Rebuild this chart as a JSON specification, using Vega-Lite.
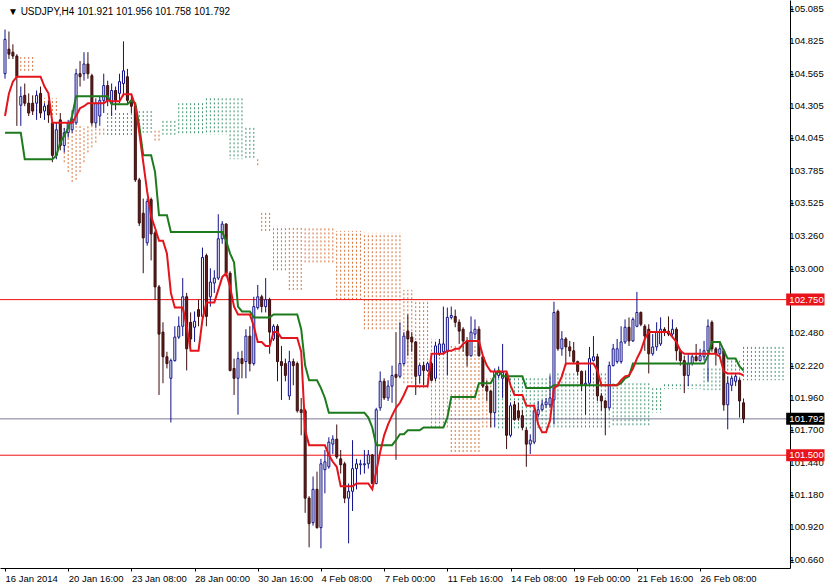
{
"$schema": "https://vega.github.io/schema/vega-lite/v6.json",
"width": 790, "height": 568,
"autosize": {"type": "none"},
"padding": {"left": 0, "top": 0, "right": 40, "bottom": 16},
"background": "white",
"config": {"view": {"stroke": null}, "axis": {"labelOverlap": false, "labelFlush": false, "labelBound": false, "grid": false, "domainColor": "#000000", "tickColor": "#000000", "labelColor": "#000000", "labelFont": "Liberation Sans", "labelFontSize": 9.5}},
"datasets": {
"boxes": [{"p":102.75,"label":"102.750"},{"p":101.792,"label":"101.792"},{"p":101.5,"label":"101.500"}],
"yticks": [{"v":105.085},{"v":104.825},{"v":104.565},{"v":104.305},{"v":104.045},{"v":103.785},{"v":103.525},{"v":103.26},{"v":103.0},{"v":102.48},{"v":102.22},{"v":101.96},{"v":101.7},{"v":101.44},{"v":101.18},{"v":100.92},{"v":100.66}],
"candles": [
{"i":0,"o":104.565,"h":104.920,"l":104.525,"c":104.841,"t":104.225,"k":104.091},
{"i":1,"o":104.762,"h":104.904,"l":104.683,"c":104.722,"t":104.407,"k":104.091},
{"i":2,"o":104.738,"h":104.801,"l":104.683,"c":104.707,"t":104.501,"k":104.091},
{"i":3,"o":104.707,"h":104.722,"l":104.146,"c":104.541,"t":104.541,"k":104.091},
{"i":4,"o":104.312,"h":104.462,"l":104.146,"c":104.383,"t":104.541,"k":104.091},
{"i":5,"o":104.391,"h":104.486,"l":104.304,"c":104.328,"t":104.541,"k":103.878},
{"i":6,"o":104.328,"h":104.407,"l":104.225,"c":104.249,"t":104.541,"k":103.878},
{"i":7,"o":104.328,"h":104.391,"l":104.233,"c":104.265,"t":104.541,"k":103.878},
{"i":8,"o":104.328,"h":104.430,"l":104.194,"c":104.391,"t":104.541,"k":103.878},
{"i":9,"o":104.407,"h":104.462,"l":104.209,"c":104.249,"t":104.541,"k":103.878},
{"i":10,"o":104.265,"h":104.328,"l":104.194,"c":104.304,"t":104.462,"k":103.878},
{"i":11,"o":104.312,"h":104.351,"l":104.170,"c":104.233,"t":104.407,"k":103.878},
{"i":12,"o":104.170,"h":104.194,"l":103.854,"c":103.909,"t":104.170,"k":103.878},
{"i":13,"o":103.909,"h":104.170,"l":103.878,"c":104.115,"t":104.170,"k":103.909},
{"i":14,"o":104.194,"h":104.249,"l":103.949,"c":103.988,"t":104.170,"k":104.012},
{"i":15,"o":103.988,"h":104.130,"l":103.933,"c":104.091,"t":104.170,"k":104.067},
{"i":16,"o":104.091,"h":104.194,"l":104.051,"c":104.170,"t":104.170,"k":104.130},
{"i":17,"o":104.115,"h":104.272,"l":104.091,"c":104.194,"t":104.170,"k":104.225},
{"i":18,"o":104.170,"h":104.604,"l":104.154,"c":104.565,"t":104.225,"k":104.383},
{"i":19,"o":104.565,"h":104.667,"l":104.462,"c":104.541,"t":104.288,"k":104.383},
{"i":20,"o":104.565,"h":104.738,"l":104.509,"c":104.643,"t":104.304,"k":104.383},
{"i":21,"o":104.643,"h":104.738,"l":104.525,"c":104.565,"t":104.328,"k":104.383},
{"i":22,"o":104.549,"h":104.565,"l":104.146,"c":104.170,"t":104.328,"k":104.383},
{"i":23,"o":104.170,"h":104.367,"l":104.130,"c":104.328,"t":104.328,"k":104.383},
{"i":24,"o":104.225,"h":104.383,"l":104.146,"c":104.351,"t":104.328,"k":104.383},
{"i":25,"o":104.351,"h":104.565,"l":104.249,"c":104.470,"t":104.328,"k":104.383},
{"i":26,"o":104.470,"h":104.509,"l":104.304,"c":104.351,"t":104.351,"k":104.383},
{"i":27,"o":104.328,"h":104.486,"l":104.225,"c":104.430,"t":104.344,"k":104.320},
{"i":28,"o":104.430,"h":104.462,"l":104.272,"c":104.351,"t":104.344,"k":104.320},
{"i":29,"o":104.407,"h":104.565,"l":104.328,"c":104.501,"t":104.344,"k":104.320},
{"i":30,"o":104.486,"h":104.825,"l":104.383,"c":104.588,"t":104.399,"k":104.320},
{"i":31,"o":104.541,"h":104.604,"l":104.328,"c":104.351,"t":104.399,"k":104.320},
{"i":32,"o":104.351,"h":104.391,"l":104.249,"c":104.304,"t":104.399,"k":104.351},
{"i":33,"o":104.304,"h":104.328,"l":103.696,"c":103.712,"t":104.304,"k":104.328},
{"i":34,"o":103.712,"h":103.728,"l":103.341,"c":103.365,"t":104.091,"k":104.146},
{"i":35,"o":103.444,"h":103.562,"l":102.962,"c":103.246,"t":103.854,"k":103.909},
{"i":36,"o":103.207,"h":103.562,"l":103.183,"c":103.538,"t":103.617,"k":103.909},
{"i":37,"o":103.554,"h":103.570,"l":103.065,"c":103.278,"t":103.420,"k":103.909},
{"i":38,"o":103.286,"h":103.302,"l":102.749,"c":102.852,"t":103.325,"k":103.775},
{"i":39,"o":102.852,"h":102.868,"l":101.984,"c":102.473,"t":103.223,"k":103.428},
{"i":40,"o":102.489,"h":102.568,"l":102.078,"c":102.291,"t":103.223,"k":103.428},
{"i":41,"o":102.291,"h":102.331,"l":102.197,"c":102.236,"t":103.120,"k":103.428},
{"i":42,"o":102.118,"h":102.276,"l":101.763,"c":102.260,"t":102.804,"k":103.294},
{"i":43,"o":102.260,"h":102.536,"l":102.252,"c":102.449,"t":102.686,"k":103.294},
{"i":44,"o":102.449,"h":102.615,"l":102.434,"c":102.536,"t":102.686,"k":103.294},
{"i":45,"o":102.536,"h":102.923,"l":102.457,"c":102.773,"t":102.686,"k":103.294},
{"i":46,"o":102.773,"h":102.804,"l":102.181,"c":102.355,"t":102.536,"k":103.294},
{"i":47,"o":102.568,"h":102.647,"l":102.355,"c":102.434,"t":102.339,"k":103.294},
{"i":48,"o":102.528,"h":102.655,"l":102.410,"c":102.576,"t":102.339,"k":103.294},
{"i":49,"o":102.670,"h":102.749,"l":102.536,"c":102.615,"t":102.339,"k":103.294},
{"i":50,"o":102.615,"h":103.168,"l":102.591,"c":103.089,"t":102.591,"k":103.294},
{"i":51,"o":103.104,"h":103.120,"l":102.536,"c":102.615,"t":102.726,"k":103.294},
{"i":52,"o":102.773,"h":103.002,"l":102.694,"c":102.891,"t":102.726,"k":103.294},
{"i":53,"o":102.883,"h":102.986,"l":102.804,"c":102.923,"t":102.726,"k":103.294},
{"i":54,"o":102.923,"h":103.436,"l":102.907,"c":103.239,"t":102.828,"k":103.294},
{"i":55,"o":103.239,"h":103.381,"l":103.199,"c":103.357,"t":102.931,"k":103.294},
{"i":56,"o":103.357,"h":103.365,"l":102.931,"c":102.962,"t":102.962,"k":103.223},
{"i":57,"o":102.962,"h":102.978,"l":102.173,"c":102.181,"t":102.852,"k":103.120},
{"i":58,"o":102.197,"h":102.276,"l":101.984,"c":102.118,"t":102.694,"k":103.049},
{"i":59,"o":102.118,"h":102.331,"l":101.826,"c":102.276,"t":102.631,"k":102.694},
{"i":60,"o":102.276,"h":102.339,"l":102.118,"c":102.236,"t":102.631,"k":102.655},
{"i":61,"o":102.252,"h":102.512,"l":102.118,"c":102.457,"t":102.631,"k":102.655},
{"i":62,"o":102.457,"h":102.536,"l":102.173,"c":102.236,"t":102.631,"k":102.655},
{"i":63,"o":102.236,"h":102.773,"l":102.220,"c":102.694,"t":102.536,"k":102.607},
{"i":64,"o":102.686,"h":102.868,"l":102.670,"c":102.773,"t":102.410,"k":102.607},
{"i":65,"o":102.773,"h":102.789,"l":102.647,"c":102.694,"t":102.410,"k":102.607},
{"i":66,"o":102.694,"h":102.923,"l":102.647,"c":102.749,"t":102.378,"k":102.607},
{"i":67,"o":102.749,"h":102.765,"l":102.315,"c":102.489,"t":102.378,"k":102.607},
{"i":68,"o":102.434,"h":102.552,"l":102.418,"c":102.536,"t":102.489,"k":102.631},
{"i":69,"o":102.536,"h":102.552,"l":102.094,"c":102.252,"t":102.489,"k":102.631},
{"i":70,"o":102.252,"h":102.378,"l":101.944,"c":102.220,"t":102.441,"k":102.631},
{"i":71,"o":102.236,"h":102.276,"l":102.094,"c":102.141,"t":102.441,"k":102.631},
{"i":72,"o":101.976,"h":102.339,"l":101.944,"c":102.252,"t":102.441,"k":102.631},
{"i":73,"o":102.252,"h":102.276,"l":102.062,"c":102.220,"t":102.441,"k":102.631},
{"i":74,"o":102.236,"h":102.252,"l":101.842,"c":101.857,"t":102.441,"k":102.631},
{"i":75,"o":101.865,"h":101.960,"l":101.660,"c":101.842,"t":102.331,"k":102.512},
{"i":76,"o":101.857,"h":101.873,"l":101.037,"c":101.155,"t":101.700,"k":102.220},
{"i":77,"o":101.155,"h":101.171,"l":100.760,"c":100.950,"t":101.581,"k":102.102},
{"i":78,"o":100.958,"h":101.329,"l":100.934,"c":101.226,"t":101.581,"k":102.102},
{"i":79,"o":101.226,"h":101.368,"l":100.910,"c":100.918,"t":101.581,"k":102.102},
{"i":80,"o":100.918,"h":101.471,"l":100.752,"c":101.431,"t":101.581,"k":102.039},
{"i":81,"o":101.384,"h":101.542,"l":101.194,"c":101.447,"t":101.581,"k":101.960},
{"i":82,"o":101.407,"h":101.644,"l":101.392,"c":101.605,"t":101.502,"k":101.842},
{"i":83,"o":101.589,"h":101.660,"l":101.510,"c":101.629,"t":101.447,"k":101.842},
{"i":84,"o":101.629,"h":101.747,"l":101.471,"c":101.486,"t":101.407,"k":101.842},
{"i":85,"o":101.471,"h":101.542,"l":101.352,"c":101.423,"t":101.250,"k":101.842},
{"i":86,"o":101.431,"h":101.447,"l":101.115,"c":101.155,"t":101.250,"k":101.842},
{"i":87,"o":101.155,"h":101.273,"l":100.792,"c":101.210,"t":101.250,"k":101.842},
{"i":88,"o":101.210,"h":101.621,"l":101.052,"c":101.392,"t":101.250,"k":101.842},
{"i":89,"o":101.392,"h":101.471,"l":101.226,"c":101.431,"t":101.273,"k":101.842},
{"i":90,"o":101.423,"h":101.463,"l":101.344,"c":101.431,"t":101.273,"k":101.842},
{"i":91,"o":101.423,"h":101.542,"l":101.352,"c":101.431,"t":101.273,"k":101.842},
{"i":92,"o":101.431,"h":101.542,"l":101.392,"c":101.502,"t":101.273,"k":101.802},
{"i":93,"o":101.502,"h":101.510,"l":101.266,"c":101.273,"t":101.226,"k":101.723},
{"i":94,"o":101.273,"h":101.881,"l":101.266,"c":101.865,"t":101.368,"k":101.581},
{"i":95,"o":101.881,"h":102.173,"l":101.857,"c":102.094,"t":101.526,"k":101.581},
{"i":96,"o":102.094,"h":102.118,"l":101.944,"c":101.960,"t":101.660,"k":101.581},
{"i":97,"o":101.960,"h":102.102,"l":101.936,"c":102.055,"t":101.747,"k":101.581},
{"i":98,"o":102.055,"h":102.220,"l":101.921,"c":102.141,"t":101.818,"k":101.581},
{"i":99,"o":102.149,"h":102.489,"l":101.463,"c":102.126,"t":101.881,"k":101.621},
{"i":100,"o":102.134,"h":102.568,"l":102.118,"c":102.236,"t":101.921,"k":101.668},
{"i":101,"o":102.236,"h":102.489,"l":102.220,"c":102.457,"t":101.984,"k":101.668},
{"i":102,"o":102.497,"h":102.631,"l":102.299,"c":102.434,"t":102.055,"k":101.700},
{"i":103,"o":102.449,"h":102.489,"l":102.331,"c":102.410,"t":102.055,"k":101.700},
{"i":104,"o":102.410,"h":102.418,"l":101.984,"c":102.134,"t":102.055,"k":101.700},
{"i":105,"o":102.141,"h":102.236,"l":102.078,"c":102.220,"t":102.055,"k":101.700},
{"i":106,"o":102.220,"h":102.252,"l":102.062,"c":102.181,"t":102.055,"k":101.723},
{"i":107,"o":102.181,"h":102.252,"l":102.173,"c":102.236,"t":102.055,"k":101.723},
{"i":108,"o":102.236,"h":102.252,"l":102.094,"c":102.102,"t":102.315,"k":101.723},
{"i":109,"o":102.118,"h":102.410,"l":102.094,"c":102.378,"t":102.315,"k":101.723},
{"i":110,"o":102.315,"h":102.434,"l":102.299,"c":102.394,"t":102.315,"k":101.723},
{"i":111,"o":102.331,"h":102.694,"l":102.315,"c":102.394,"t":102.315,"k":101.723},
{"i":112,"o":102.331,"h":102.686,"l":102.141,"c":102.607,"t":102.339,"k":101.802},
{"i":113,"o":102.607,"h":102.694,"l":102.591,"c":102.623,"t":102.339,"k":101.968},
{"i":114,"o":102.615,"h":102.670,"l":102.528,"c":102.568,"t":102.355,"k":101.968},
{"i":115,"o":102.568,"h":102.591,"l":102.394,"c":102.497,"t":102.355,"k":101.968},
{"i":116,"o":102.512,"h":102.528,"l":102.331,"c":102.418,"t":102.394,"k":101.968},
{"i":117,"o":102.418,"h":102.449,"l":102.213,"c":102.299,"t":102.418,"k":101.968},
{"i":118,"o":102.299,"h":102.615,"l":102.291,"c":102.489,"t":102.418,"k":101.968},
{"i":119,"o":102.473,"h":102.591,"l":102.434,"c":102.512,"t":102.418,"k":101.968},
{"i":120,"o":102.512,"h":102.536,"l":102.291,"c":102.299,"t":102.418,"k":102.078},
{"i":121,"o":102.291,"h":102.299,"l":102.039,"c":102.055,"t":102.299,"k":102.078},
{"i":122,"o":102.055,"h":102.102,"l":101.936,"c":102.015,"t":102.220,"k":102.078},
{"i":123,"o":102.015,"h":102.023,"l":101.723,"c":101.842,"t":102.173,"k":102.078},
{"i":124,"o":101.842,"h":102.197,"l":101.723,"c":102.173,"t":102.173,"k":102.141},
{"i":125,"o":102.141,"h":102.213,"l":102.118,"c":102.173,"t":102.173,"k":102.181},
{"i":126,"o":102.118,"h":102.394,"l":101.960,"c":102.165,"t":102.173,"k":102.134},
{"i":127,"o":102.157,"h":102.173,"l":101.549,"c":101.660,"t":102.173,"k":102.134},
{"i":128,"o":101.660,"h":101.921,"l":101.644,"c":101.897,"t":102.062,"k":102.134},
{"i":129,"o":101.905,"h":101.936,"l":101.778,"c":101.786,"t":101.984,"k":102.134},
{"i":130,"o":101.857,"h":101.921,"l":101.778,"c":101.802,"t":101.984,"k":102.134},
{"i":131,"o":101.818,"h":101.865,"l":101.700,"c":101.723,"t":101.984,"k":102.134},
{"i":132,"o":101.700,"h":101.723,"l":101.407,"c":101.589,"t":101.897,"k":102.039},
{"i":133,"o":101.589,"h":101.668,"l":101.510,"c":101.621,"t":101.897,"k":102.039},
{"i":134,"o":101.605,"h":101.905,"l":101.589,"c":101.857,"t":101.897,"k":102.039},
{"i":135,"o":101.826,"h":101.936,"l":101.802,"c":101.865,"t":101.747,"k":102.039},
{"i":136,"o":101.865,"h":101.944,"l":101.857,"c":101.905,"t":101.684,"k":102.039},
{"i":137,"o":101.905,"h":101.960,"l":101.881,"c":101.928,"t":101.684,"k":102.039},
{"i":138,"o":101.905,"h":102.141,"l":101.881,"c":101.960,"t":101.778,"k":102.039},
{"i":139,"o":101.944,"h":102.733,"l":101.747,"c":102.647,"t":102.039,"k":102.062},
{"i":140,"o":102.655,"h":102.670,"l":102.339,"c":102.355,"t":102.062,"k":102.062},
{"i":141,"o":102.355,"h":102.497,"l":102.299,"c":102.434,"t":102.134,"k":102.062},
{"i":142,"o":102.434,"h":102.449,"l":102.220,"c":102.370,"t":102.236,"k":102.062},
{"i":143,"o":102.370,"h":102.418,"l":102.291,"c":102.339,"t":102.236,"k":102.062},
{"i":144,"o":102.339,"h":102.410,"l":102.236,"c":102.252,"t":102.236,"k":102.062},
{"i":145,"o":102.252,"h":102.260,"l":102.141,"c":102.173,"t":102.236,"k":102.062},
{"i":146,"o":102.173,"h":102.181,"l":102.015,"c":102.062,"t":102.236,"k":102.062},
{"i":147,"o":102.062,"h":102.181,"l":101.826,"c":102.078,"t":102.236,"k":102.062},
{"i":148,"o":102.078,"h":102.370,"l":102.062,"c":102.276,"t":102.236,"k":102.062},
{"i":149,"o":102.260,"h":102.457,"l":102.252,"c":102.291,"t":102.236,"k":102.062},
{"i":150,"o":102.291,"h":102.315,"l":101.936,"c":101.976,"t":102.181,"k":102.062},
{"i":151,"o":101.976,"h":101.999,"l":101.857,"c":101.936,"t":102.062,"k":102.062},
{"i":152,"o":101.936,"h":101.944,"l":101.660,"c":101.881,"t":102.062,"k":102.062},
{"i":153,"o":101.881,"h":102.252,"l":101.865,"c":102.220,"t":102.062,"k":102.062},
{"i":154,"o":102.220,"h":102.394,"l":102.213,"c":102.355,"t":102.062,"k":102.062},
{"i":155,"o":102.252,"h":102.434,"l":102.236,"c":102.355,"t":102.062,"k":102.062},
{"i":156,"o":102.252,"h":102.536,"l":102.236,"c":102.410,"t":102.102,"k":102.078},
{"i":157,"o":102.410,"h":102.591,"l":102.394,"c":102.528,"t":102.134,"k":102.118},
{"i":158,"o":102.528,"h":102.607,"l":102.378,"c":102.418,"t":102.141,"k":102.134},
{"i":159,"o":102.418,"h":102.607,"l":102.410,"c":102.591,"t":102.197,"k":102.236},
{"i":160,"o":102.536,"h":102.812,"l":102.528,"c":102.647,"t":102.276,"k":102.236},
{"i":161,"o":102.647,"h":102.655,"l":102.536,"c":102.552,"t":102.339,"k":102.236},
{"i":162,"o":102.536,"h":102.552,"l":102.339,"c":102.457,"t":102.434,"k":102.236},
{"i":163,"o":102.512,"h":102.552,"l":102.157,"c":102.315,"t":102.489,"k":102.236},
{"i":164,"o":102.315,"h":102.473,"l":102.299,"c":102.370,"t":102.489,"k":102.236},
{"i":165,"o":102.370,"h":102.568,"l":102.339,"c":102.489,"t":102.489,"k":102.236},
{"i":166,"o":102.394,"h":102.607,"l":102.378,"c":102.512,"t":102.489,"k":102.236},
{"i":167,"o":102.512,"h":102.528,"l":102.457,"c":102.489,"t":102.489,"k":102.236},
{"i":168,"o":102.497,"h":102.615,"l":102.457,"c":102.473,"t":102.489,"k":102.236},
{"i":169,"o":102.473,"h":102.591,"l":102.449,"c":102.512,"t":102.449,"k":102.236},
{"i":170,"o":102.512,"h":102.528,"l":102.260,"c":102.339,"t":102.410,"k":102.236},
{"i":171,"o":102.339,"h":102.355,"l":102.220,"c":102.260,"t":102.339,"k":102.236},
{"i":172,"o":102.260,"h":102.299,"l":101.999,"c":102.141,"t":102.315,"k":102.236},
{"i":173,"o":102.141,"h":102.315,"l":102.055,"c":102.236,"t":102.315,"k":102.236},
{"i":174,"o":102.236,"h":102.315,"l":102.220,"c":102.291,"t":102.315,"k":102.236},
{"i":175,"o":102.291,"h":102.394,"l":102.252,"c":102.260,"t":102.315,"k":102.236},
{"i":176,"o":102.260,"h":102.355,"l":102.252,"c":102.299,"t":102.315,"k":102.236},
{"i":177,"o":102.291,"h":102.418,"l":102.260,"c":102.339,"t":102.315,"k":102.236},
{"i":178,"o":102.339,"h":102.591,"l":102.094,"c":102.536,"t":102.315,"k":102.299},
{"i":179,"o":102.568,"h":102.583,"l":102.331,"c":102.355,"t":102.315,"k":102.410},
{"i":180,"o":102.355,"h":102.370,"l":102.220,"c":102.315,"t":102.315,"k":102.410},
{"i":181,"o":102.315,"h":102.410,"l":102.291,"c":102.355,"t":102.291,"k":102.410},
{"i":182,"o":102.339,"h":102.355,"l":101.857,"c":101.905,"t":102.173,"k":102.339},
{"i":183,"o":101.905,"h":102.134,"l":101.708,"c":102.078,"t":102.157,"k":102.276},
{"i":184,"o":102.062,"h":102.141,"l":102.015,"c":102.118,"t":102.157,"k":102.276},
{"i":185,"o":102.094,"h":102.157,"l":102.055,"c":102.134,"t":102.157,"k":102.276},
{"i":186,"o":102.102,"h":102.118,"l":101.802,"c":101.936,"t":102.157,"k":102.213},
{"i":187,"o":101.921,"h":101.956,"l":101.758,"c":101.792,"t":102.141,"k":102.181}
],
"cloud": [
{"i":4,"a":104.588,"b":104.699},{"i":5,"a":104.588,"b":104.699},{"i":6,"a":104.588,"b":104.699},{"i":7,"a":104.588,"b":104.699},
{"i":8,"a":104.233,"b":104.367},{"i":9,"a":104.233,"b":104.367},{"i":10,"a":104.233,"b":104.367},{"i":11,"a":104.233,"b":104.367},{"i":12,"a":104.233,"b":104.367},{"i":13,"a":104.233,"b":104.367},
{"i":14,"a":103.973,"b":104.146},{"i":15,"a":103.854,"b":104.146},{"i":16,"a":103.775,"b":104.146},{"i":17,"a":103.696,"b":104.146},{"i":18,"a":103.712,"b":104.146},{"i":19,"a":103.775,"b":104.146},{"i":20,"a":103.854,"b":104.146},{"i":21,"a":103.933,"b":104.146},{"i":22,"a":103.973,"b":104.146},{"i":23,"a":104.012,"b":104.146},
{"i":24,"a":104.075,"b":104.130},{"i":25,"a":104.075,"b":104.130},
{"i":26,"a":104.249,"b":104.067},{"i":27,"a":104.249,"b":104.067},{"i":28,"a":104.249,"b":104.067},{"i":29,"a":104.249,"b":104.067},{"i":30,"a":104.249,"b":104.067},{"i":31,"a":104.249,"b":104.067},{"i":32,"a":104.249,"b":104.067},
{"i":33,"a":104.265,"b":104.091},{"i":34,"a":104.265,"b":104.091},{"i":35,"a":104.265,"b":104.091},{"i":36,"a":104.265,"b":104.091},{"i":37,"a":104.265,"b":104.091},
{"i":38,"a":104.028,"b":104.107},{"i":39,"a":104.028,"b":104.107},
{"i":40,"a":104.186,"b":104.075},{"i":41,"a":104.186,"b":104.075},{"i":42,"a":104.186,"b":104.075},{"i":43,"a":104.186,"b":104.075},
{"i":44,"a":104.328,"b":104.075},{"i":45,"a":104.328,"b":104.075},{"i":46,"a":104.328,"b":104.075},{"i":47,"a":104.328,"b":104.075},{"i":48,"a":104.328,"b":104.075},{"i":49,"a":104.328,"b":104.075},{"i":50,"a":104.328,"b":104.075},
{"i":51,"a":104.367,"b":104.075},{"i":52,"a":104.367,"b":104.075},{"i":53,"a":104.367,"b":104.075},{"i":54,"a":104.367,"b":104.075},{"i":55,"a":104.367,"b":104.075},{"i":56,"a":104.367,"b":104.075},
{"i":57,"a":104.367,"b":103.878},{"i":58,"a":104.367,"b":103.878},{"i":59,"a":104.367,"b":103.878},{"i":60,"a":104.367,"b":103.878},
{"i":61,"a":104.130,"b":103.878},{"i":62,"a":104.130,"b":103.878},{"i":63,"a":104.130,"b":103.878},
{"i":64,"a":103.830,"b":103.878},
{"i":65,"a":103.302,"b":103.460},{"i":66,"a":103.302,"b":103.460},{"i":67,"a":103.302,"b":103.460},
{"i":68,"a":102.986,"b":103.341},{"i":69,"a":102.986,"b":103.341},{"i":70,"a":102.986,"b":103.341},{"i":71,"a":102.986,"b":103.341},
{"i":72,"a":102.828,"b":103.341},{"i":73,"a":102.828,"b":103.341},{"i":74,"a":102.828,"b":103.341},{"i":75,"a":102.828,"b":103.341},
{"i":76,"a":103.049,"b":103.325},{"i":77,"a":103.049,"b":103.325},{"i":78,"a":103.049,"b":103.325},{"i":79,"a":103.049,"b":103.325},{"i":80,"a":103.049,"b":103.325},{"i":81,"a":103.049,"b":103.325},{"i":82,"a":103.049,"b":103.325},{"i":83,"a":103.049,"b":103.325},
{"i":84,"a":102.749,"b":103.302},{"i":85,"a":102.749,"b":103.302},{"i":86,"a":102.749,"b":103.302},{"i":87,"a":102.749,"b":103.302},{"i":88,"a":102.749,"b":103.302},{"i":89,"a":102.749,"b":103.302},{"i":90,"a":102.749,"b":103.302},
{"i":91,"a":102.512,"b":103.286},{"i":92,"a":102.512,"b":103.286},{"i":93,"a":102.512,"b":103.286},{"i":94,"a":102.512,"b":103.286},{"i":95,"a":102.512,"b":103.286},{"i":96,"a":102.512,"b":103.286},{"i":97,"a":102.512,"b":103.286},{"i":98,"a":102.512,"b":103.286},{"i":99,"a":102.512,"b":103.286},{"i":100,"a":102.512,"b":103.286},
{"i":101,"a":102.078,"b":102.828},{"i":102,"a":102.078,"b":102.828},{"i":103,"a":102.078,"b":102.828},
{"i":104,"a":102.039,"b":102.749},{"i":105,"a":102.039,"b":102.749},{"i":106,"a":102.039,"b":102.749},{"i":107,"a":102.039,"b":102.749},
{"i":108,"a":101.723,"b":102.434},{"i":109,"a":101.723,"b":102.434},{"i":110,"a":101.723,"b":102.434},{"i":111,"a":101.723,"b":102.434},{"i":112,"a":101.723,"b":102.434},
{"i":113,"a":101.526,"b":102.394},{"i":114,"a":101.526,"b":102.394},{"i":115,"a":101.526,"b":102.394},{"i":116,"a":101.526,"b":102.394},{"i":117,"a":101.526,"b":102.394},{"i":118,"a":101.526,"b":102.394},{"i":119,"a":101.526,"b":102.394},{"i":120,"a":101.526,"b":102.394},
{"i":121,"a":101.723,"b":102.118},{"i":122,"a":101.723,"b":102.118},{"i":123,"a":101.723,"b":102.118},
{"i":124,"a":102.134,"b":102.078},
{"i":125,"a":102.118,"b":101.708},{"i":126,"a":102.118,"b":101.708},{"i":127,"a":102.118,"b":101.708},{"i":128,"a":102.118,"b":101.708},{"i":129,"a":102.118,"b":101.708},{"i":130,"a":102.118,"b":101.708},{"i":131,"a":102.118,"b":101.708},{"i":132,"a":102.118,"b":101.708},{"i":133,"a":102.118,"b":101.708},{"i":134,"a":102.118,"b":101.708},{"i":135,"a":102.118,"b":101.708},{"i":136,"a":102.118,"b":101.708},{"i":137,"a":102.118,"b":101.708},
{"i":138,"a":102.157,"b":101.723},{"i":139,"a":102.157,"b":101.723},{"i":140,"a":102.157,"b":101.723},{"i":141,"a":102.157,"b":101.723},{"i":142,"a":102.157,"b":101.723},{"i":143,"a":102.157,"b":101.723},{"i":144,"a":102.157,"b":101.723},{"i":145,"a":102.157,"b":101.723},{"i":146,"a":102.157,"b":101.723},{"i":147,"a":102.157,"b":101.723},{"i":148,"a":102.157,"b":101.723},{"i":149,"a":102.157,"b":101.723},{"i":150,"a":102.157,"b":101.723},{"i":151,"a":102.157,"b":101.723},{"i":152,"a":102.157,"b":101.723},{"i":153,"a":102.157,"b":101.723},
{"i":154,"a":102.078,"b":101.739},{"i":155,"a":102.078,"b":101.739},{"i":156,"a":102.078,"b":101.739},{"i":157,"a":102.078,"b":101.739},{"i":158,"a":102.078,"b":101.739},{"i":159,"a":102.078,"b":101.739},{"i":160,"a":102.078,"b":101.739},{"i":161,"a":102.078,"b":101.739},{"i":162,"a":102.078,"b":101.739},{"i":163,"a":102.078,"b":101.739},
{"i":164,"a":102.039,"b":101.842},{"i":165,"a":102.039,"b":101.842},{"i":166,"a":102.039,"b":101.842},
{"i":167,"a":102.070,"b":102.031},{"i":168,"a":102.070,"b":102.031},{"i":169,"a":102.070,"b":102.031},{"i":170,"a":102.070,"b":102.031},{"i":171,"a":102.070,"b":102.031},{"i":172,"a":102.070,"b":102.031},{"i":173,"a":102.070,"b":102.031},{"i":174,"a":102.070,"b":102.031},{"i":175,"a":102.070,"b":102.031},{"i":176,"a":102.070,"b":102.031},
{"i":177,"a":102.197,"b":102.023},{"i":178,"a":102.197,"b":102.023},{"i":179,"a":102.197,"b":102.023},{"i":180,"a":102.197,"b":102.023},{"i":181,"a":102.197,"b":102.023},
{"i":182,"a":102.260,"b":102.078},{"i":183,"a":102.260,"b":102.078},{"i":184,"a":102.260,"b":102.078},{"i":185,"a":102.260,"b":102.078},{"i":186,"a":102.260,"b":102.078},
{"i":187,"a":102.370,"b":102.102},{"i":188,"a":102.370,"b":102.102},{"i":189,"a":102.370,"b":102.102},{"i":190,"a":102.370,"b":102.102},{"i":191,"a":102.370,"b":102.102},{"i":192,"a":102.370,"b":102.102},{"i":193,"a":102.370,"b":102.102},{"i":194,"a":102.370,"b":102.102},{"i":195,"a":102.370,"b":102.102},{"i":196,"a":102.370,"b":102.102},{"i":197,"a":102.370,"b":102.102}
]
},
"layer": [
{
"data": {"name": "cloud"},
"mark": {"type": "rule", "strokeWidth": 1, "strokeDash": [2, 2]},
"encoding": {
"x": {"field": "i", "type": "quantitative", "scale": {"domain": [0, 197.5], "nice": false, "zero": false},
"axis": {"orient": "bottom", "values": [0,16,32,48,64,80,96,112,128,144,160,176],
"labelExpr": "['16 Jan 2014','20 Jan 16:00','23 Jan 08:00','28 Jan 00:00','30 Jan 16:00','4 Feb 08:00','7 Feb 00:00','11 Feb 16:00','14 Feb 08:00','19 Feb 00:00','21 Feb 16:00','26 Feb 08:00'][round(datum.value/16)]",
"labelAlign": "left", "labelBaseline": "top", "tickSize": 3, "labelPadding": 2, "labelFlush": false, "labelOverlap": false, "title": null, "zindex": 0}},
"y": {"field": "a", "type": "quantitative", "scale": {"domain": [100.634, 105.117], "nice": false, "zero": false},
"axis": {"orient": "right", "values": [105.085,104.825,104.565,104.305,104.045,103.785,103.525,103.26,103.0,102.48,102.22,101.96,101.7,101.44,101.18,100.92,100.66],
"labels": false, "tickSize": 3, "title": null, "zindex": 0}},
"y2": {"field": "b"},
"color": {"condition": {"test": "datum.a > datum.b", "value": "#3f9470"}, "value": "#d4713a"}
}
},
{
"data": {"name": "yticks"},
"mark": {"type": "text", "align": "left", "baseline": "middle", "font": "Liberation Sans", "fontSize": 9.5, "color": "#000000"},
"encoding": {
"x": {"datum": 198.6, "type": "quantitative", "scale": {"domain": [0, 197.5], "nice": false, "zero": false}, "title": null},
"y": {"field": "v", "type": "quantitative", "scale": {"domain": [100.634, 105.117], "nice": false, "zero": false}, "title": null},
"text": {"field": "v", "type": "quantitative", "format": ".3f"}
}
},
{
"data": {"name": "boxes"},
"mark": {"type": "rule", "strokeWidth": 1},
"encoding": {
"y": {"field": "p", "type": "quantitative", "scale": {"domain": [100.634, 105.117], "nice": false, "zero": false}, "title": null},
"color": {"condition": {"test": "datum.p == 101.792", "value": "#7a7a96"}, "value": "#f01010"}
}
},
{
"data": {"name": "candles"},
"mark": {"type": "rule", "strokeWidth": 1},
"encoding": {
"x": {"field": "i", "type": "quantitative", "scale": {"domain": [0, 197.5], "nice": false, "zero": false}, "title": null},
"y": {"field": "l", "type": "quantitative", "scale": {"domain": [100.634, 105.117], "nice": false, "zero": false}, "title": null},
"y2": {"field": "h"},
"color": {"condition": {"test": "datum.c >= datum.o", "value": "#10108a"}, "value": "#3a0c0c"}
}
},
{
"data": {"name": "candles"},
"mark": {"type": "bar", "width": 2, "strokeWidth": 1},
"encoding": {
"x": {"field": "i", "type": "quantitative", "scale": {"domain": [0, 197.5], "nice": false, "zero": false}, "title": null},
"y": {"field": "o", "type": "quantitative", "scale": {"domain": [100.634, 105.117], "nice": false, "zero": false}, "title": null},
"y2": {"field": "c"},
"fill": {"condition": {"test": "datum.c >= datum.o", "value": "#ffffff"}, "value": "#622020"},
"stroke": {"condition": {"test": "datum.c >= datum.o", "value": "#10108a"}, "value": "#3a0c0c"}
}
},
{
"data": {"name": "candles"},
"mark": {"type": "line", "strokeWidth": 2, "color": "#1d7a1d"},
"encoding": {
"x": {"field": "i", "type": "quantitative", "scale": {"domain": [0, 197.5], "nice": false, "zero": false}, "title": null},
"y": {"field": "k", "type": "quantitative", "scale": {"domain": [100.634, 105.117], "nice": false, "zero": false}, "title": null}
}
},
{
"data": {"name": "candles"},
"mark": {"type": "line", "strokeWidth": 2, "color": "#e3141b"},
"encoding": {
"x": {"field": "i", "type": "quantitative", "scale": {"domain": [0, 197.5], "nice": false, "zero": false}, "title": null},
"y": {"field": "t", "type": "quantitative", "scale": {"domain": [100.634, 105.117], "nice": false, "zero": false}, "title": null}
}
},
{
"data": {"name": "boxes"},
"mark": {"type": "bar", "height": 12},
"encoding": {
"x": {"datum": 197.8, "type": "quantitative", "scale": {"domain": [0, 197.5], "nice": false, "zero": false}, "title": null},
"x2": {"datum": 207.5},
"y": {"field": "p", "type": "quantitative", "scale": {"domain": [100.634, 105.117], "nice": false, "zero": false}, "title": null},
"color": {"condition": {"test": "datum.p == 101.792", "value": "#000000"}, "value": "#e8131b"}
}
},
{
"data": {"name": "boxes"},
"mark": {"type": "text", "align": "left", "baseline": "middle", "font": "Liberation Sans", "fontSize": 9.5, "color": "#ffffff"},
"encoding": {
"x": {"datum": 198.6, "type": "quantitative", "scale": {"domain": [0, 197.5], "nice": false, "zero": false}, "title": null},
"y": {"field": "p", "type": "quantitative", "scale": {"domain": [100.634, 105.117], "nice": false, "zero": false}, "title": null},
"text": {"field": "label"}
}
},
{
"data": {"values": [{"s": "▼ USDJPY,H4  101.921 101.956 101.758 101.792"}]},
"mark": {"type": "text", "align": "left", "baseline": "middle", "font": "Liberation Sans", "fontSize": 10, "color": "#000000"},
"encoding": {
"x": {"datum": 0.75, "type": "quantitative", "scale": {"domain": [0, 197.5], "nice": false, "zero": false}, "title": null},
"y": {"datum": 105.062, "type": "quantitative", "scale": {"domain": [100.634, 105.117], "nice": false, "zero": false}, "title": null},
"text": {"field": "s"}
}
}
]
}
